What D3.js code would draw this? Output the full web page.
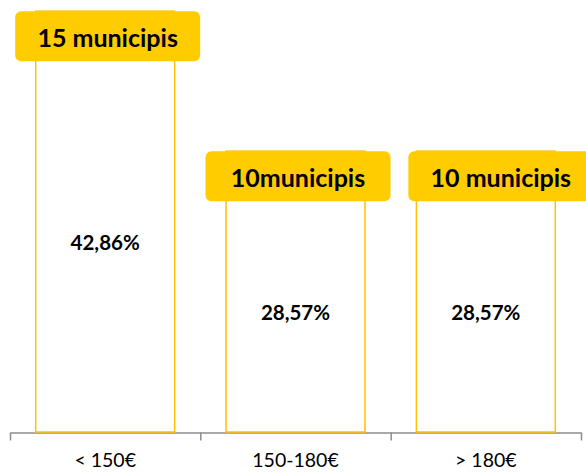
<!DOCTYPE html>
<html>
<head>
<meta charset="utf-8">
<script src="https://cdn.jsdelivr.net/npm/d3@7"></script>
<style>
    body { margin: 0; background: #fff; }
    text { font-family: Lato, "Open Sans", sans-serif; }
</style>
</head>
<body>
<div id="chart"></div>
<script>
var categories = ["< 150€", "150-180€", "> 180€"];
var shares = [42.86, 28.57, 28.57];
var boxLabels = ["15 municipis", "10municipis", "10 municipis"];
var shareLabels = ["42,86%", "28,57%", "28,57%"];

var width = 586,
    height = 473,
    axisY = 432;

// the last label box sits a bit to the right in the original
var boxNudge = [2.5, 2.5, 15];

var svg = d3.select("#chart")
    .append("svg")
    .attr("width", width)
    .attr("height", height);

var x = d3.scaleBand()
    .domain(categories)
    .range([10, 581])
    .paddingInner(0.27)
    .paddingOuter(0.135);

var y = d3.scaleLinear()
    .domain([0, 44])
    .range([431, 0]);

// axis with ticks on the category edges
var xEdge = d3.scaleLinear()
    .domain([0, categories.length])
    .range(x.range());

svg.append("g")
    .attr("transform", "translate(0," + (axisY + 0.5) + ")")
    .call(d3.axisBottom(xEdge)
        .ticks(categories.length)
        .tickFormat("")
        .tickSizeInner(8)
        .tickSizeOuter(0))
    .call(function(g) {
        g.select(".domain").attr("stroke", "#8c8c8c").attr("stroke-width", 1.5);
        g.selectAll(".tick line").attr("stroke", "#8c8c8c").attr("stroke-width", 1.5);
    });

svg.append("g")
    .attr("transform", "translate(0," + axisY + ")")
    .call(d3.axisBottom(x).tickSize(0).tickPadding(21))
    .call(function(g) {
        g.select(".domain").remove();
        g.selectAll("text")
            .attr("fill", "#000")
            .style("font-size", "19.5px")
            .style("font-family", "Lato, sans-serif");
    });

// bars: white with yellow outline
svg.selectAll(".bar")
    .data(shares)
    .enter()
    .append("rect")
    .attr("class", "bar")
    .attr("x", function(d, i) { return x(categories[i]); })
    .attr("y", function(d) { return y(d); })
    .attr("width", x.bandwidth())
    .attr("height", function(d) { return axisY - y(d); })
    .attr("fill", "#fff")
    .attr("stroke", "#ffc000")
    .attr("stroke-width", 1.5);

// percentage labels
svg.selectAll(".share")
    .data(shares)
    .enter()
    .append("text")
    .attr("class", "share")
    .attr("x", function(d, i) { return x(categories[i]) + x.bandwidth() / 2; })
    .attr("y", function(d) { return (y(d) + axisY) / 2 + 20; })
    .attr("text-anchor", "middle")
    .attr("dominant-baseline", "central")
    .style("font-size", "20.5px")
    .style("font-weight", "bold")
    .text(function(d, i) { return shareLabels[i]; });

// yellow label boxes on top of each bar
var boxW = 185,
    boxH = 50;

var boxes = svg.selectAll(".box")
    .data(shares)
    .enter()
    .append("g")
    .attr("class", "box")
    .attr("transform", function(d, i) {
        var cx = x(categories[i]) + x.bandwidth() / 2 + boxNudge[i];
        return "translate(" + (cx - boxW / 2) + "," + y(d) + ")";
    });

boxes.append("rect")
    .attr("width", boxW)
    .attr("height", boxH)
    .attr("rx", 6)
    .attr("fill", "#ffcc00");

boxes.append("text")
    .attr("x", boxW / 2)
    .attr("y", boxH / 2 + 1)
    .attr("text-anchor", "middle")
    .attr("dominant-baseline", "central")
    .style("font-size", "25px")
    .style("font-weight", "bold")
    .text(function(d, i) { return boxLabels[i]; });
</script>
</body>
</html>
